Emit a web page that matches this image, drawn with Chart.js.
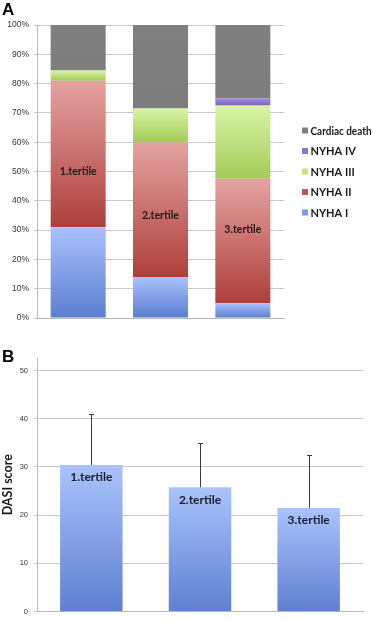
<!DOCTYPE html>
<html>
<head>
<meta charset="utf-8">
<script src="https://cdn.jsdelivr.net/npm/chart.js@4.4.1/dist/chart.umd.min.js"></script>
<style>
  html, body { margin: 0; padding: 0; background: #ffffff; }
  body { width: 373px; height: 622px; position: relative; overflow: hidden; font-family: "Liberation Sans", Arial, sans-serif; }
  .panel { position: absolute; left: 0; width: 373px; }
  #wrapA { top: 0; height: 330px; }
  #wrapB { top: 330px; height: 292px; }
  .tag { position: absolute; left: 2px; font: bold 17px "Liberation Sans", Arial, sans-serif; color: #000; }
  #tagA { top: 0px; }
  #tagB { top: 347px; }
</style>
</head>
<body>
<div class="panel" id="wrapA"><canvas id="chartA" width="373" height="330"></canvas></div>
<div class="panel" id="wrapB"><canvas id="chartB" width="373" height="292"></canvas></div>
<div class="tag" id="tagA">A</div>
<div class="tag" id="tagB">B</div>
<script>
// ---------- data ----------
const categories = ['1.tertile', '2.tertile', '3.tertile'];
const seriesNames = ['NYHA I', 'NYHA II', 'NYHA III', 'NYHA IV', 'Cardiac death'];
const nyha1 = [31, 14, 5];
const nyha2 = [50, 46, 42.5];
const nyha3 = [3.5, 11.5, 25];
const nyha4 = [0, 0, 2.5];
const cardiacDeath = [15.5, 28.5, 25];
const percentTicks = [0, 10, 20, 30, 40, 50, 60, 70, 80, 90, 100];
const tertileLabelLevel = [50, 35, 30];   // % level at which the tertile name sits in panel A

const dasiMean = [30.4, 25.8, 21.5];
const dasiSD = [10.6, 9.2, 11.0];
const dasiTicks = [0, 10, 20, 30, 40, 50];

// ---------- styles ----------
const gradA = [
  ['#aac2fd', '#5b7ed0'],   // NYHA I
  ['#e4a3a0', '#ae3f3b'],   // NYHA II
  ['#d9f4a6', '#a3cc58'],   // NYHA III
  ['#a48ddb', '#7a62bb'],   // NYHA IV
  ['#808080', '#7d7d7d']    // Cardiac death
];
const solidA = ['#7b9ae3', '#c05a57', '#c2e67e', '#8a73c7', '#808080'];
const seriesValues = [nyha1, nyha2, nyha3, nyha4, cardiacDeath];

function segGradient(ctx, dsIndex) {
  const chart = ctx.chart;
  if (ctx.dataIndex === undefined || !chart.chartArea || !chart.scales.y) return solidA[dsIndex];
  const i = ctx.dataIndex;
  let base = 0;
  for (let d = 0; d < dsIndex; d++) base += seriesValues[d][i];
  const y = chart.scales.y;
  const yTop = y.getPixelForValue(base + seriesValues[dsIndex][i]);
  const yBot = y.getPixelForValue(base);
  if (!(yBot > yTop)) return solidA[dsIndex];
  const g = chart.ctx.createLinearGradient(0, yTop, 0, yBot);
  g.addColorStop(0, gradA[dsIndex][0]);
  g.addColorStop(1, gradA[dsIndex][1]);
  return g;
}

const labelFont = '"Lato", "Open Sans", sans-serif';

// legend drawn at right of panel A
const legendPluginA = {
  id: 'legendA',
  afterDraw(chart) {
    const c = chart.ctx;
    const area = chart.chartArea;
    const n = seriesNames.length;
    const step = 20.5;
    const cy = (area.top + area.bottom) / 2;
    const y0 = cy - step * (n - 1) / 2;
    c.save();
    c.font = 'bold 11px ' + labelFont;
    c.textBaseline = 'middle';
    c.textAlign = 'left';
    for (let k = 0; k < n; k++) {
      const d = n - 1 - k;
      const y = y0 + k * step;
      c.fillStyle = solidA[d];
      c.fillRect(area.right + 18, y - 3, 6, 6);
      c.fillStyle = '#1a1a1a';
      const w = c.measureText(seriesNames[d]).width;
      c.fillText(seriesNames[d], area.right + 26.5, y + 0.5, Math.min(w, 61));
    }
    c.restore();
  }
};

const barLabelPluginA = {
  id: 'barLabelsA',
  afterDatasetsDraw(chart) {
    const c = chart.ctx;
    const meta = chart.getDatasetMeta(1);
    const y = chart.scales.y;
    c.save();
    c.font = 'bold 10.5px ' + labelFont;
    c.fillStyle = '#1a1a1a';
    c.textAlign = 'center';
    c.textBaseline = 'middle';
    meta.data.forEach((el, i) => {
      c.fillText(categories[i], el.x, y.getPixelForValue(tertileLabelLevel[i]));
    });
    c.restore();
  }
};

new Chart(document.getElementById('chartA'), {
  type: 'bar',
  data: {
    labels: categories,
    datasets: seriesNames.map((name, d) => ({
      label: name,
      data: seriesValues[d],
      backgroundColor: (ctx) => segGradient(ctx, d),
      borderWidth: 0,
      barPercentage: 0.668,
      categoryPercentage: 1
    }))
  },
  options: {
    responsive: false,
    animation: false,
    events: [],
    layout: { padding: { top: 25, right: 89, bottom: 12, left: 0 } },
    plugins: { legend: { display: false }, tooltip: { enabled: false } },
    scales: {
      x: {
        stacked: true,
        grid: { display: false },
        border: { display: true, color: '#b8b8b8', width: 1 },
        ticks: { display: false },
        afterFit: (s) => { s.height = 0; }
      },
      y: {
        stacked: true,
        min: 0,
        max: 100,
        afterBuildTicks: (s) => { s.ticks = percentTicks.map(v => ({ value: v })); },
        ticks: {
          callback: (v) => v + '%',
          font: { family: '"Liberation Sans", Arial, sans-serif', size: 8.5 },
          color: '#333333',
          padding: 5
        },
        grid: { color: '#c6c6c6', lineWidth: 1, tickLength: 3, drawTicks: true },
        border: { display: true, color: '#b8b8b8', width: 1 },
        afterFit: (s) => { s.width = 37; }
      }
    }
  },
  plugins: [barLabelPluginA, legendPluginA]
});

// ---------- panel B ----------
const barPluginB = {
  id: 'barExtrasB',
  afterDatasetsDraw(chart) {
    const c = chart.ctx;
    const meta = chart.getDatasetMeta(0);
    const y = chart.scales.y;
    c.save();
    c.strokeStyle = '#3a3a3a';
    c.lineWidth = 1;
    meta.data.forEach((el, i) => {
      const x = Math.round(el.x) + 0.5;
      const yTop = Math.round(y.getPixelForValue(dasiMean[i] + dasiSD[i])) + 0.5;
      const yBar = y.getPixelForValue(dasiMean[i]);
      c.beginPath();
      c.moveTo(x, yBar);
      c.lineTo(x, yTop);
      c.moveTo(x - 2.5, yTop);
      c.lineTo(x + 2.5, yTop);
      c.stroke();
    });
    c.font = 'bold 12px ' + labelFont;
    c.fillStyle = '#1a1a2a';
    c.textAlign = 'center';
    c.textBaseline = 'middle';
    meta.data.forEach((el, i) => {
      c.fillText(categories[i], el.x, y.getPixelForValue(dasiMean[i]) + 12.5);
    });
    c.restore();
  }
};

new Chart(document.getElementById('chartB'), {
  type: 'bar',
  data: {
    labels: categories,
    datasets: [{
      label: 'DASI score',
      data: dasiMean,
      backgroundColor: (ctx) => {
        const chart = ctx.chart;
        if (!chart.chartArea || !chart.scales.y) return '#86a3ea';
        const y = chart.scales.y;
        const v = ctx.dataIndex !== undefined ? dasiMean[ctx.dataIndex] : 30;
        const g = chart.ctx.createLinearGradient(0, y.getPixelForValue(v), 0, y.getPixelForValue(0));
        g.addColorStop(0, '#aac3fc');
        g.addColorStop(1, '#5f80d1');
        return g;
      },
      borderWidth: 0,
      barPercentage: 0.575,
      categoryPercentage: 1
    }]
  },
  options: {
    responsive: false,
    animation: false,
    events: [],
    layout: { padding: { top: 28, right: 10, bottom: 5, left: 0 } },
    plugins: { legend: { display: false }, tooltip: { enabled: false } },
    scales: {
      x: {
        grid: { display: false },
        border: { display: true, color: '#b8b8b8', width: 1 },
        ticks: { display: false },
        afterFit: (s) => { s.height = 0; }
      },
      y: {
        min: 0,
        max: 52.6,
        afterBuildTicks: (s) => { s.ticks = dasiTicks.map(v => ({ value: v })); },
        ticks: {
          font: { family: '"Liberation Sans", Arial, sans-serif', size: 7.5 },
          color: '#333333',
          padding: 6
        },
        grid: { color: '#c6c6c6', lineWidth: 1, tickLength: 3, drawTicks: true },
        border: { display: true, color: '#b8b8b8', width: 1 },
        title: {
          display: true,
          text: 'DASI score',
          font: { family: labelFont, size: 12.5, weight: 'bold' },
          color: '#1a1a1a',
          padding: { top: 0, bottom: 0 }
        },
        afterFit: (s) => { s.width = 37; }
      }
    }
  },
  plugins: [barPluginB]
});
</script>
</body>
</html>
